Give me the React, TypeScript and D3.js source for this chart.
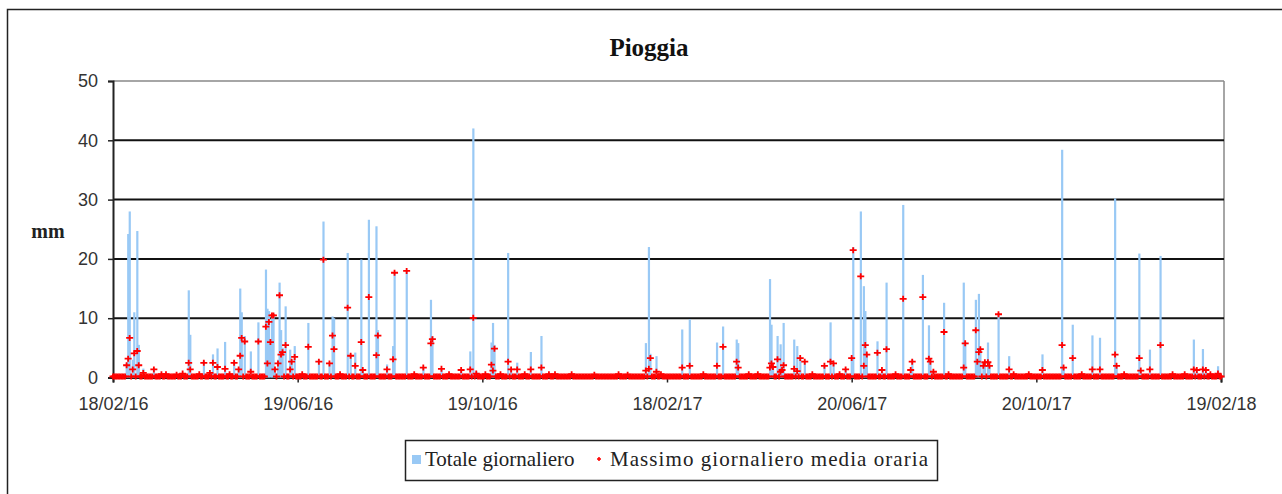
import React, { useEffect, useRef } from "react";
import * as d3 from "d3";

// giorni piovosi (gli altri giorni valgono 0)
const rainDates = [
  "2016-02-27", "2016-02-28", "2016-02-29", "2016-03-02", "2016-03-03", "2016-03-05", "2016-03-06", "2016-03-09",
  "2016-03-16", "2016-03-21", "2016-03-24", "2016-03-31", "2016-04-04", "2016-04-08", "2016-04-09", "2016-04-15",
  "2016-04-18", "2016-04-22", "2016-04-24", "2016-04-27", "2016-05-02", "2016-05-05", "2016-05-08", "2016-05-11",
  "2016-05-12", "2016-05-13", "2016-05-15", "2016-05-19", "2016-05-24", "2016-05-29", "2016-05-30", "2016-05-31",
  "2016-06-01", "2016-06-02", "2016-06-03", "2016-06-04", "2016-06-06", "2016-06-07", "2016-06-08", "2016-06-09",
  "2016-06-11", "2016-06-14", "2016-06-15", "2016-06-17", "2016-06-22", "2016-06-26", "2016-07-03", "2016-07-06",
  "2016-07-10", "2016-07-12", "2016-07-13", "2016-07-17", "2016-07-22", "2016-07-24", "2016-07-27", "2016-07-31",
  "2016-08-01", "2016-08-05", "2016-08-10", "2016-08-11", "2016-08-17", "2016-08-21", "2016-08-22", "2016-08-30",
  "2016-09-04", "2016-09-10", "2016-09-15", "2016-09-16", "2016-09-22", "2016-09-27", "2016-10-05", "2016-10-11",
  "2016-10-13", "2016-10-15", "2016-10-21", "2016-10-25", "2016-10-26", "2016-10-27", "2016-10-31", "2016-11-05",
  "2016-11-07", "2016-11-11", "2016-11-16", "2016-11-20", "2016-11-27", "2016-12-02", "2016-12-06", "2016-12-17",
  "2017-01-01", "2017-01-17", "2017-01-23", "2017-02-04", "2017-02-06", "2017-02-07", "2017-02-11", "2017-02-14",
  "2017-02-28", "2017-03-05", "2017-03-14", "2017-03-23", "2017-03-27", "2017-04-05", "2017-04-06", "2017-04-13",
  "2017-04-19", "2017-04-27", "2017-04-28", "2017-04-29", "2017-05-02", "2017-05-04", "2017-05-05", "2017-05-06",
  "2017-05-13", "2017-05-15", "2017-05-17", "2017-05-20", "2017-05-25", "2017-06-02", "2017-06-06", "2017-06-08",
  "2017-06-12", "2017-06-16", "2017-06-20", "2017-06-21", "2017-06-26", "2017-06-28", "2017-06-29", "2017-06-30",
  "2017-07-07", "2017-07-10", "2017-07-13", "2017-07-19", "2017-07-24", "2017-07-29", "2017-07-30", "2017-08-06",
  "2017-08-10", "2017-08-11", "2017-08-13", "2017-08-20", "2017-08-23", "2017-09-02", "2017-09-03", "2017-09-10",
  "2017-09-11", "2017-09-12", "2017-09-13", "2017-09-15", "2017-09-16", "2017-09-18", "2017-09-19", "2017-09-25",
  "2017-10-02", "2017-10-05", "2017-10-15", "2017-10-24", "2017-11-06", "2017-11-07", "2017-11-13", "2017-11-19",
  "2017-11-26", "2017-12-01", "2017-12-11", "2017-12-12", "2017-12-17", "2017-12-27", "2017-12-28", "2018-01-03",
  "2018-01-10", "2018-01-18", "2018-01-26", "2018-02-01", "2018-02-03", "2018-02-07", "2018-02-09", "2018-02-12",
  "2018-02-17",
];

// Totale giornaliero (mm)
const dailyTotal = [
  2.5, 24.2, 28, 3, 11, 24.7, 5.5, 1.5,
  1.5, 0.6, 0.6, 0.5, 0.8, 14.7, 7.2, 0.5,
  2.8, 1, 3.9, 4.9, 6, 0.5, 2.8, 1.5,
  15, 11, 7, 4.4, 9.3, 18.2, 11.6, 11.2,
  6, 10.5, 10.8, 1.5, 3, 16, 8, 5,
  12, 4.7, 3, 5.3, 0.5, 9.2, 3, 26.3,
  2.5, 10.3, 10, 0.5, 21, 3.9, 4.2, 19.9,
  1.3, 26.6, 25.5, 8, 2.2, 5.3, 17.8, 18.1,
  0.5, 1.8, 13.1, 7, 1.5, 0.5, 1.3, 4.4,
  42, 1, 0.5, 5.9, 9.2, 5.5, 0.5, 21,
  1.5, 2.5, 0.5, 4.3, 7, 0.5, 0.6, 0.5,
  0.4, 0.5, 0.4, 5.8, 22, 4, 3.6, 0.5,
  8.1, 9.8, 0.5, 5.9, 8.6, 6.4, 5.8, 0.5,
  0.5, 16.6, 8.9, 2, 7, 5.6, 1.3, 9.2,
  6.4, 5.3, 3.5, 2.8, 0.5, 2, 9.3, 2.5,
  0.5, 1.4, 3.5, 22, 28, 15.4, 11.2, 4,
  6.1, 1.3, 16, 0.5, 29.1, 1.3, 3, 17.3,
  8.8, 3, 1, 12.6, 0.5, 16, 6, 13.1,
  3, 14.1, 5, 2, 2.6, 5.9, 2, 10.8,
  3.6, 0.5, 0.5, 3.9, 38.4, 1.7, 8.9, 0.5,
  7.1, 6.7, 30.2, 2, 0.5, 20.9, 1.2, 4.7,
  20.5, 0.5, 0.5, 6.4, 1.3, 4.8, 1.3, 0.5,
  1.9,
];

// Massimo giornaliero media oraria (mm)
const hourlyMax = [
  1.9, 3, 6.5, 1.2, 3.9, 4.3, 1.9, 0.6,
  1.2, 0.4, 0.4, 0.3, 0.5, 2.3, 1.2, 0.4,
  2.3, 0.6, 2.3, 1.6, 1.3, 0.4, 2.3, 1.2,
  3.5, 6.5, 5.9, 0.8, 5.9, 8.4, 2.2, 9.2,
  5.8, 10.3, 10.3, 1.2, 2.2, 13.7, 3.7, 4.1,
  5.3, 1.2, 2.5, 3.3, 0.4, 5, 2.5, 19.7,
  2.2, 6.9, 4.6, 0.4, 11.6, 3.5, 1.8, 5.8,
  1.1, 13.4, 3.6, 6.9, 1.2, 2.9, 17.5, 17.8,
  0.4, 1.5, 5.6, 6.3, 1.3, 0.4, 1.1, 1.2,
  9.9, 0.5, 0.4, 2, 1, 4.7, 0.4, 2.5,
  1.2, 1.2, 0.4, 1.2, 1.5, 0.4, 0.4, 0.4,
  0.3, 0.4, 0.3, 1, 1.3, 3.1, 0.8, 0.4,
  1.5, 1.8, 0.4, 1.8, 5, 2.5, 1.5, 0.4,
  0.4, 1.5, 2.2, 1.6, 2.9, 0.8, 1.1, 1.9,
  1.3, 0.9, 3.1, 2.5, 0.4, 1.8, 2.5, 2.2,
  0.4, 1.2, 3.1, 21.3, 16.9, 1.8, 5.3, 3.7,
  4, 1.1, 4.6, 0.4, 13.1, 1.1, 2.5, 13.4,
  3, 2.5, 0.8, 7.5, 0.4, 1.5, 5.6, 7.8,
  2.5, 4.1, 4.6, 1.8, 2.4, 2.4, 1.8, 10.5,
  1.2, 0.4, 0.4, 1.1, 5.3, 1.5, 3.1, 0.4,
  1.2, 1.2, 3.7, 1.8, 0.4, 3.1, 1, 1.2,
  5.3, 0.4, 0.4, 1.2, 1.1, 1.2, 1.1, 0.4,
  0.5,
];

const periodStart = "2016-02-18";
const periodEnd = "2018-02-19";
const xTickDates = ["2016-02-18", "2016-06-19", "2016-10-19", "2017-02-18", "2017-06-20", "2017-10-20", "2018-02-19"];
const yTicks = [0, 10, 20, 30, 40, 50];

const App = () => {
  const svgRef = useRef<SVGSVGElement>(null);

  useEffect(() => {
    const svg = d3.select(svgRef.current);
    svg.selectAll("*").remove();

    const parse = d3.timeParse("%Y-%m-%d");
    const fmt = d3.timeFormat("%d/%m/%y");
    const start = parse(periodStart) as Date;
    const end = parse(periodEnd) as Date;

    const left = 113, right = 1221, top = 81, bottom = 377.5;
    const plotRight = 1224;

    const x = d3.scaleTime().domain([start, end]).range([left, right]);
    const y = d3.scaleLinear().domain([0, 50]).range([bottom, top]);

    const rain = rainDates.map((d, i) => ({ date: parse(d) as Date, total: dailyTotal[i], max: hourlyMax[i] }));
    const byDay = new Map(rain.map((r) => [+r.date, r]));
    const allDays = d3.timeDay.range(start, d3.timeDay.offset(end, 1)).map((d) => ({
      date: d,
      max: byDay.has(+d) ? byDay.get(+d)!.max : 0,
    }));

    const sans = "'Liberation Sans', Arial, sans-serif";
    const serif = "'Liberation Serif', 'Times New Roman', Times, serif";

    // chart area border
    svg.append("rect")
      .attr("x", 7.5).attr("y", 9.5)
      .attr("width", 1290).attr("height", 500)
      .attr("fill", "#fff").attr("stroke", "#222").attr("stroke-width", 1.5);

    svg.append("text")
      .attr("x", 649).attr("y", 56)
      .attr("text-anchor", "middle")
      .attr("font-family", serif).attr("font-weight", "bold").attr("font-size", 25)
      .attr("fill", "#111")
      .text("Pioggia");

    svg.append("text")
      .attr("x", 48).attr("y", 238)
      .attr("text-anchor", "middle")
      .attr("font-family", serif).attr("font-weight", "bold").attr("font-size", 20)
      .attr("fill", "#222")
      .text("mm");

    // plot border (top + right) grey
    svg.append("line")
      .attr("x1", left).attr("x2", plotRight).attr("y1", y(50)).attr("y2", y(50))
      .attr("stroke", "#888").attr("stroke-width", 1.5);
    svg.append("line")
      .attr("x1", plotRight).attr("x2", plotRight).attr("y1", y(50)).attr("y2", bottom)
      .attr("stroke", "#888").attr("stroke-width", 1.5);

    // gridlines
    svg.append("g")
      .selectAll("line")
      .data(yTicks.filter((t) => t > 0 && t < 50))
      .enter()
      .append("line")
      .attr("x1", left).attr("x2", plotRight)
      .attr("y1", (d) => y(d)).attr("y2", (d) => y(d))
      .attr("stroke", "#111").attr("stroke-width", 2);

    // y axis
    const yAxis = svg.append("g")
      .attr("transform", `translate(${left},0)`)
      .call(d3.axisLeft(y).tickValues(yTicks).tickSize(5).tickPadding(10));
    yAxis.select(".domain").attr("stroke", "#222").attr("stroke-width", 2);
    yAxis.selectAll(".tick line").attr("stroke", "#222").attr("stroke-width", 1.5);
    yAxis.selectAll("text")
      .attr("font-family", sans).attr("font-size", 18).attr("fill", "#333");

    // x axis
    const xAxis = svg.append("g")
      .attr("transform", `translate(0,${bottom})`)
      .call(
        d3.axisBottom(x)
          .tickValues(xTickDates.map((d) => parse(d) as Date))
          .tickFormat((d) => fmt(d as Date))
          .tickSize(5).tickPadding(15)
      );
    xAxis.select(".domain").attr("stroke", "#222").attr("stroke-width", 2);
    xAxis.selectAll(".tick line").attr("stroke", "#222").attr("stroke-width", 1.5);
    xAxis.selectAll("text")
      .attr("font-family", sans).attr("font-size", 18).attr("fill", "#333");

    // bars
    svg.append("g")
      .selectAll("rect")
      .data(rain)
      .enter()
      .append("rect")
      .attr("x", (d) => x(d.date) - 1)
      .attr("width", 2.2)
      .attr("y", (d) => y(d.total))
      .attr("height", (d) => bottom - y(d.total))
      .attr("fill", "#99c9f5");

    // markers
    const plus = "M-3.5,0H3.5M0,-3V3";
    svg.append("g")
      .selectAll("path")
      .data(allDays)
      .enter()
      .append("path")
      .attr("transform", (d) => `translate(${x(d.date)},${y(d.max) - 1})`)
      .attr("d", plus)
      .attr("stroke", "#f00")
      .attr("stroke-width", 1.8)
      .attr("fill", "none");

    // legend
    const lg = svg.append("g");
    lg.append("rect")
      .attr("x", 405.5).attr("y", 440.5).attr("width", 532).attr("height", 40)
      .attr("fill", "#fff").attr("stroke", "#222").attr("stroke-width", 1.5);
    lg.append("rect")
      .attr("x", 412).attr("y", 455).attr("width", 9).attr("height", 9)
      .attr("fill", "#99c9f5");
    lg.append("text")
      .attr("x", 425).attr("y", 466)
      .attr("font-family", serif).attr("font-size", 21).attr("fill", "#222")
      .text("Totale giornaliero");
    lg.append("path")
      .attr("transform", "translate(599,459)")
      .attr("d", "M-2,0H2M0,-2V2")
      .attr("stroke", "#f00").attr("stroke-width", 1.5);
    lg.append("text")
      .attr("x", 610).attr("y", 466)
      .attr("font-family", serif).attr("font-size", 21).attr("fill", "#222")
      .attr("textLength", 318).attr("lengthAdjust", "spacing")
      .text("Massimo giornaliero media oraria");
  }, []);

  return (
    <svg
      ref={svgRef}
      width={1282}
      height={494}
      style={{ position: "absolute", left: 0, top: 0, display: "block" }}
    ></svg>
  );
};

export default App;
